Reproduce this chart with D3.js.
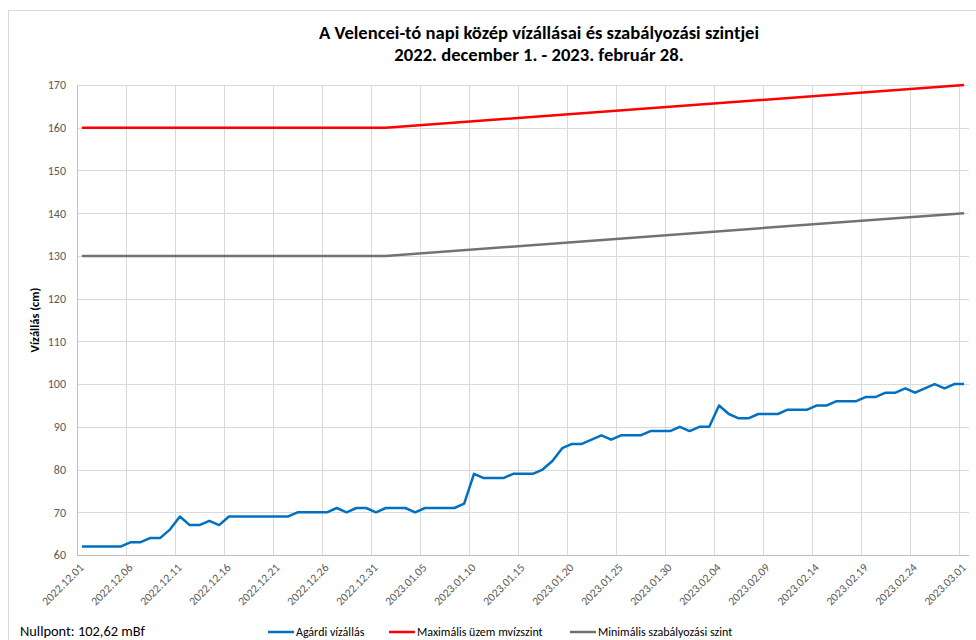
<!DOCTYPE html>
<html>
<head>
<meta charset="utf-8">
<script src="https://cdn.jsdelivr.net/npm/d3@7"></script>
<style>
  html, body { margin: 0; padding: 0; background: #fff; }
  svg { display: block; }
  text { font-family: Carlito, Lato, "Open Sans", sans-serif; }
</style>
</head>
<body>
<svg id="chart" width="976" height="640"></svg>
<script>
// ---- Data ----
const titleLines = ["A Velencei-tó napi közép vízállásai és szabályozási szintjei",
                    "2022. december 1. - 2023. február 28."];
const yAxisTitle = "Vízállás (cm)";
const footnote = "Nullpont: 102,62 mBf";
const seriesNames = ["Agárdi vízállás", "Maximális üzem mvízszint", "Minimális szabályozási szint"];
const seriesColors = ["#0070C0", "#FF0000", "#767171"];

const startDate = "2022-12-01";
const endDate = "2023-03-01";

// Agárdi daily mean water level (cm), 2022.12.01 .. 2023.03.01
const agardiValues = [
  62,62,62,62,62,63,63,64,64,66,
  69,67,67,68,67,69,69,69,69,69,
  69,69,70,70,70,70,71,70,71,71,
  70,71,71,71,70,71,71,71,71,72,
  79,78,78,78,79,79,79,80,82,85,
  86,86,87,88,87,88,88,88,89,89,
  89,90,89,90,90,95,93,92,92,93,
  93,93,94,94,94,95,95,96,96,96,
  97,97,98,98,99,98,99,100,99,100,
  100
];

// Regulation levels (breakpoints of straight segments)
const levelDates = ["2022-12-01", "2023-01-01", "2023-03-01"];
const maxLevelValues = [160, 160, 170];
const minLevelValues = [130, 130, 140];

const yTicks = [60, 70, 80, 90, 100, 110, 120, 130, 140, 150, 160, 170];
const xTickLabels = ["2022.12.01","2022.12.06","2022.12.11","2022.12.16","2022.12.21","2022.12.26",
  "2022.12.31","2023.01.05","2023.01.10","2023.01.15","2023.01.20","2023.01.25","2023.01.30",
  "2023.02.04","2023.02.09","2023.02.14","2023.02.19","2023.02.24","2023.03.01"];

// ---- Layout ----
const svg = d3.select("#chart");
const W = 976, H = 640;
const plot = { left: 77, right: 969, top: 85, bottom: 555 };

const parse = d3.utcParse("%Y-%m-%d");
const parseTick = d3.utcParse("%Y.%m.%d");
const d0 = parse(startDate);
const d1 = d3.utcDay.offset(parse(endDate), 1);
const days = d3.utcDay.range(d0, d1);
const mid = d => d3.utcHour.offset(d, 12);

const x = d3.scaleUtc().domain([d0, d1]).range([plot.left, plot.right]);
const y = d3.scaleLinear().domain([60, 170]).range([plot.bottom, plot.top]);

// chart frame
svg.append("rect").attr("x", 8.5).attr("y", 10.5).attr("width", W).attr("height", H)
  .attr("fill", "none").attr("stroke", "#d9d9d9");

// gridlines
const grid = svg.append("g");
grid.selectAll("line.h").data(yTicks.filter(v => v > 60)).join("line")
  .attr("x1", plot.left).attr("x2", plot.right)
  .attr("y1", d => Math.round(y(d)) + 0.5).attr("y2", d => Math.round(y(d)) + 0.5)
  .attr("stroke", "#d9d9d9").attr("stroke-width", 1);
grid.selectAll("line.v").data(xTickLabels.slice(1)).join("line")
  .attr("x1", d => Math.round(x(parseTick(d))) + 0.5).attr("x2", d => Math.round(x(parseTick(d))) + 0.5)
  .attr("y1", plot.top).attr("y2", plot.bottom)
  .attr("stroke", "#d9d9d9").attr("stroke-width", 1);

// y axis
const yAxis = svg.append("g").attr("transform", `translate(${plot.left},0)`)
  .call(d3.axisLeft(y).tickValues(yTicks).tickSize(0).tickPadding(11));
yAxis.select(".domain").attr("stroke", "#bfbfbf");
yAxis.selectAll("text").attr("fill", "#595959").style("font-size", "12px");

// x axis
const xAxis = svg.append("g").attr("transform", `translate(0,${plot.bottom + 0.5})`)
  .call(d3.axisBottom(x).tickValues(xTickLabels.map(parseTick)).tickSize(0)
    .tickFormat(d3.utcFormat("%Y.%m.%d")));
xAxis.select(".domain").attr("stroke", "#bfbfbf").attr("d", `M${plot.left},0H${plot.right}`);
xAxis.selectAll("text")
  .attr("fill", "#595959").style("font-size", "11.7px")
  .attr("text-anchor", "end")
  .attr("dy", "0.35em").attr("y", 0)
  .attr("transform", "translate(4,10) rotate(-45)");

// lines
const line = d3.line().x(d => x(d[0])).y(d => y(d[1]));
const lines = svg.append("g");
lines.append("path")
  .datum(levelDates.map((d, i) => [mid(parse(d)), maxLevelValues[i]]))
  .attr("d", line).attr("fill", "none").attr("stroke", seriesColors[1])
  .attr("stroke-width", 2.5).attr("stroke-linejoin", "round");
lines.append("path")
  .datum(levelDates.map((d, i) => [mid(parse(d)), minLevelValues[i]]))
  .attr("d", line).attr("fill", "none").attr("stroke", seriesColors[2])
  .attr("stroke-width", 2.5).attr("stroke-linejoin", "round");
lines.append("path")
  .datum(days.map((d, i) => [mid(d), agardiValues[i]]))
  .attr("d", line).attr("fill", "none").attr("stroke", seriesColors[0])
  .attr("stroke-width", 2.5).attr("stroke-linejoin", "round");

// title
svg.append("g").selectAll("text").data(titleLines).join("text")
  .attr("x", 539).attr("y", (d, i) => 39 + i * 22)
  .attr("text-anchor", "middle").attr("fill", "#000")
  .style("font-size", "18.6px").style("font-weight", "bold")
  .text(d => d);

// y axis title
svg.append("text")
  .attr("transform", `translate(39,320) rotate(-90)`)
  .attr("text-anchor", "middle").attr("fill", "#000")
  .style("font-size", "12.5px").style("font-weight", "bold")
  .text(yAxisTitle);

// footnote
svg.append("text").attr("x", 20).attr("y", 636)
  .attr("fill", "#000").style("font-size", "14.4px").text(footnote);

// legend
const legendX = [268, 389, 570];
const lg = svg.append("g").selectAll("g").data(seriesNames).join("g")
  .attr("transform", (d, i) => `translate(${legendX[i]},632)`);
lg.append("line").attr("x1", 0).attr("x2", 26).attr("y1", 0).attr("y2", 0)
  .attr("stroke", (d, i) => seriesColors[i]).attr("stroke-width", 2.5);
lg.append("text").attr("x", 28).attr("y", 0).attr("dy", "0.35em")
  .attr("fill", "#000").style("font-size", "12px").text(d => d);
</script>
</body>
</html>
